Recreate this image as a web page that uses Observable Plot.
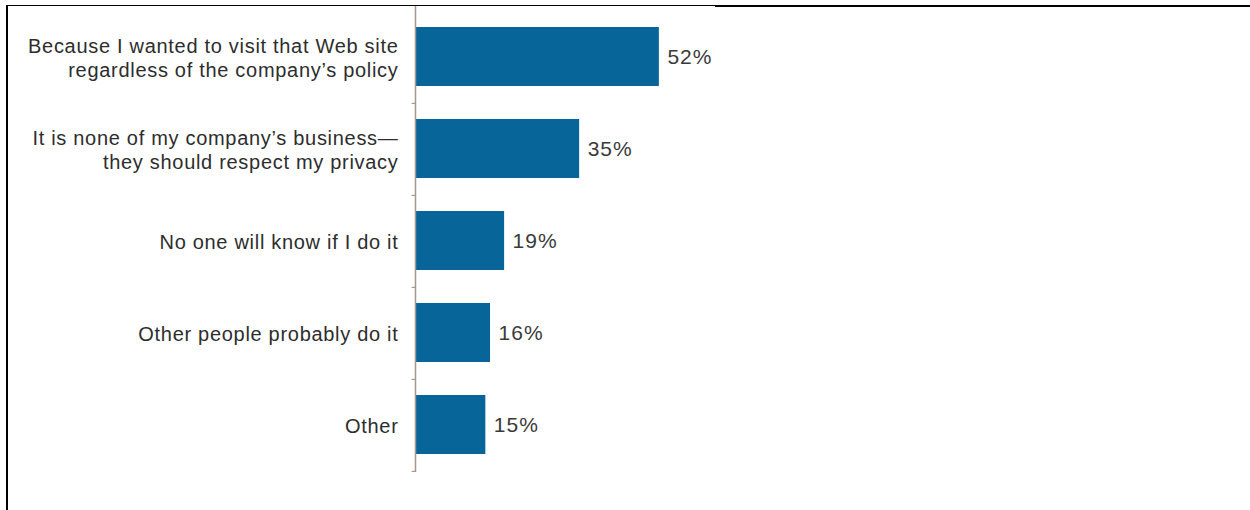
<!DOCTYPE html>
<html>
<head>
<meta charset="utf-8">
<script src="https://cdn.jsdelivr.net/npm/d3@7"></script>
<script src="https://cdn.jsdelivr.net/npm/@observablehq/plot@0.6"></script>
<style>
  html, body { margin: 0; padding: 0; background: #fff; }
  #wrap { position: relative; width: 1250px; height: 510px; overflow: hidden; }
  #frameLeft { position: absolute; left: 6px; top: 5px; width: 2px; height: 505px; background: #000; }
  #frameTopA { position: absolute; left: 6px; top: 5px; width: 710px; height: 1px; background: #000; }
  #frameTopB { position: absolute; left: 715px; top: 5px; width: 535px; height: 2px; background: #000; }
  #chart { position: absolute; left: 0; top: 0; }
  #chart svg g.cat text { letter-spacing: 0.7px; }
  #chart svg g.val text { letter-spacing: 1px; }
</style>
</head>
<body>
<div id="wrap">
  <div id="chart"></div>
  <div id="frameLeft"></div>
  <div id="frameTopA"></div>
  <div id="frameTopB"></div>
</div>
<script>
const categories = [
  "Because I wanted to visit that Web site\nregardless of the company’s policy",
  "It is none of my company’s business—\nthey should respect my privacy",
  "No one will know if I do it",
  "Other people probably do it",
  "Other"
];
const values = [52, 35, 19, 16, 15];
const valueLabels = ["52%", "35%", "19%", "16%", "15%"];

const data = categories.map((c, i) => ({category: c, value: values[i], label: valueLabels[i]}));

const barColor = "#07659a";
const axisColor = "#a8968c";
const font = "'Liberation Sans', Arial, Helvetica, sans-serif";

const chart = Plot.plot({
  width: 1250,
  height: 510,
  marginTop: 5,
  marginBottom: 38,
  marginLeft: 415,
  marginRight: 366,
  style: {fontFamily: font, background: "transparent", color: "#333"},
  x: {domain: [0, 100], axis: null},
  y: {domain: categories, range: [8, 472], paddingInner: 0.36, paddingOuter: 0.18, axis: null},
  marks: [
    Plot.barX(data, {x: "value", y: "category", fill: barColor}),
    Plot.ruleX([0], {stroke: axisColor, strokeWidth: 1.5}),
    Plot.ruleY(data, {y: "category", x1: -0.7, x2: 0, dy: 46.4, stroke: axisColor, strokeWidth: 1.2}),
    Plot.text(data, {
      x: 0, y: "category", text: "category", textAnchor: "end", dx: -17,
      fontSize: 20, lineHeight: 1.2, fill: "#2d2d2d", className: "cat"
    }),
    Plot.text(data, {
      x: "value", y: "category", text: "label", textAnchor: "start", dx: 8,
      fontSize: 21, fill: "#3a3a3a", className: "val"
    })
  ]
});
document.getElementById("chart").appendChild(chart);
</script>
</body>
</html>
